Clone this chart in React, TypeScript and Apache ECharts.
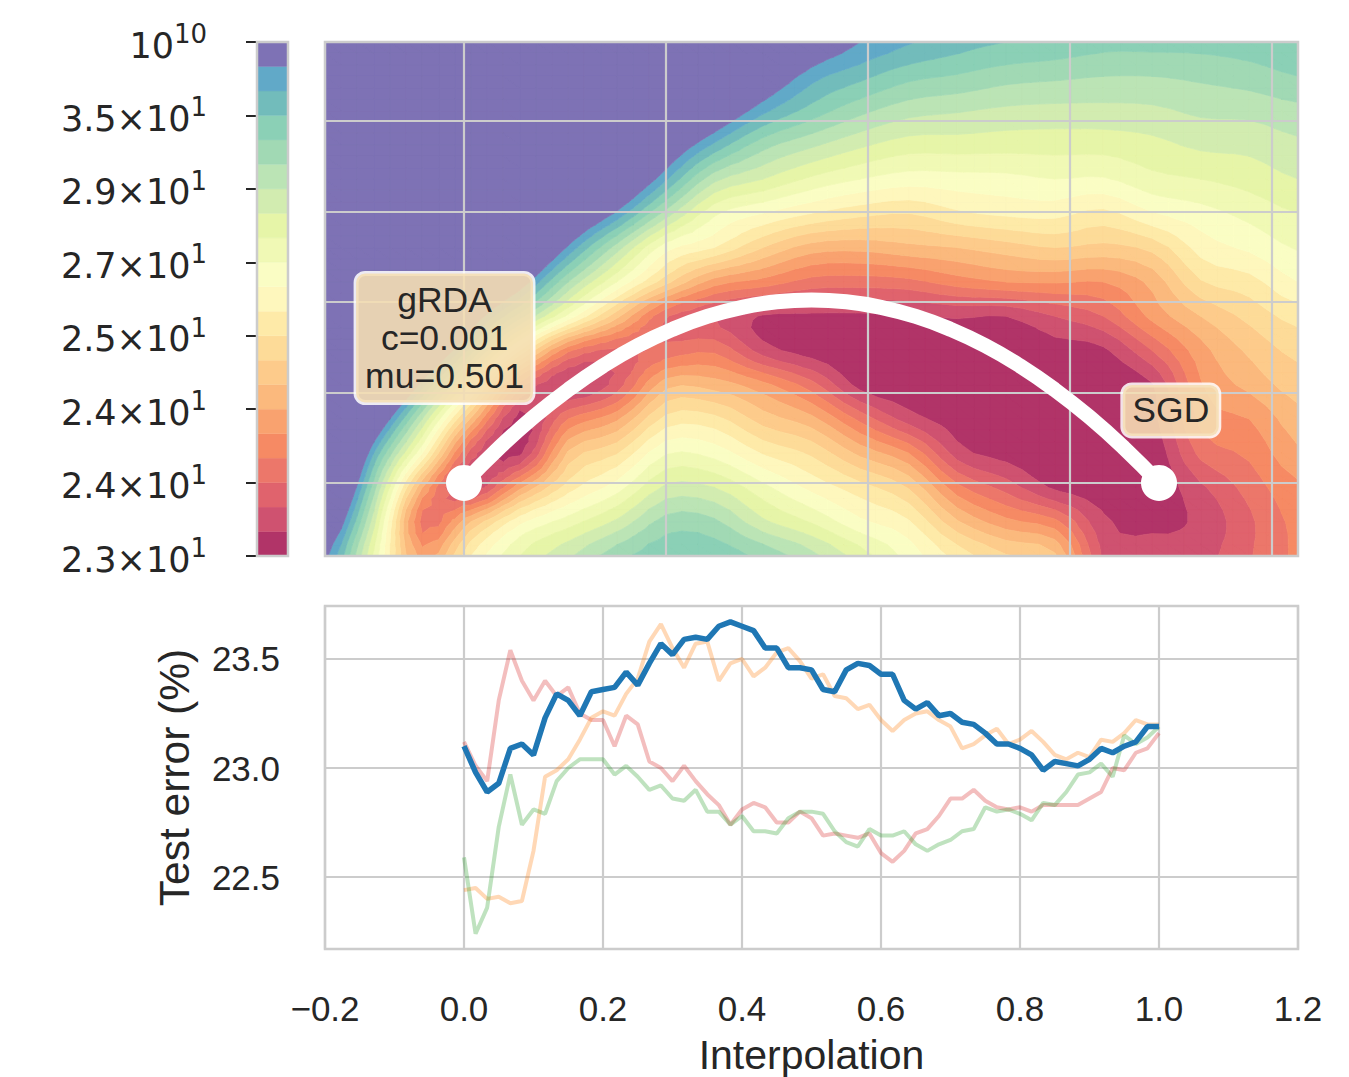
import React, { useEffect, useRef } from "react";
import * as echarts from "echarts";

// ---------- colour bar ----------
const bandColors = [
  "#b13468", "#cf5270", "#e0636d", "#ec776a", "#f68a64", "#f9a26f", "#fbb97d",
  "#fdcb8b", "#fddb98", "#feeaa8", "#fef7bd", "#fafdc4", "#f0f9b5", "#e6f5a8",
  "#d2ecb0", "#bbe4b5", "#a1d9b4", "#8bd0b6", "#72bcbb", "#61a9c8", "#7e72b5",
];
const colorbarMantissas = ["2.3×10", "2.4×10", "2.4×10", "2.5×10", "2.7×10", "2.9×10", "3.5×10", "10"];
const colorbarExponents = ["1", "1", "1", "1", "1", "1", "1", "10"];

// ---------- loss surface: one list per column, top row first, in colour-bar levels ----------
const surfaceColumns = [
  [56, 54, 52, 50, 48, 46, 44, 42, 39, 36, 33, 30, 27.5, 25, 22.5, 20.4],
  [52, 50, 48, 46, 44, 42, 40, 37, 34, 30, 26.5, 22.5, 19, 16.5, 14.4, 12.8],
  [48, 46, 44, 42, 40, 37, 35, 32, 28, 24, 19.5, 15, 11, 6, 3.6, 5.5],
  [44, 42, 39, 36.5, 34, 31.5, 29, 25, 21.5, 17.5, 12.1, 6.8, 2.5, 1.3, 7, 10],
  [40, 37, 34.5, 32, 29.5, 27, 24.5, 21, 16.5, 10, 3.5, 0.5, 0.7, 5.7, 10.7, 13],
  [36, 34, 31.5, 28.5, 25.5, 23, 19.8, 16, 11.7, 4.2, 0.9, 4, 7.2, 9.5, 12.5, 14.8],
  [33, 31, 28.6, 26, 23, 19.8, 15.5, 12, 7.3, 2.7, 2.4, 5.8, 8.9, 11.5, 14.2, 16.6],
  [30, 27.5, 24.8, 22, 19.2, 15.6, 11.4, 8.4, 3.1, 3.3, 6.6, 9.3, 11.9, 14.2, 16.4, 17.7],
  [27, 24.5, 22, 18.8, 15.3, 12.2, 10, 5.5, 2, 3.8, 6.5, 9.3, 11.6, 14, 16.2, 17.6],
  [24.5, 21.8, 19.3, 16.4, 14, 11, 8, 4.6, 0.9, 1.5, 5.3, 7.5, 9.9, 12.3, 14.2, 16.7],
  [21.5, 19.4, 17.6, 15.2, 12.8, 10, 6.5, 3.6, 0.8, 0.5, 3.4, 6.3, 8.8, 10.7, 12.9, 15.3],
  [20, 18.3, 16.3, 14.2, 12, 9.3, 6.3, 3.5, 0.8, 0.3, 0.6, 3.7, 6.7, 9.4, 11.2, 13.5],
  [19.1, 17.3, 15.4, 13.5, 11.5, 9, 6.7, 3.7, 0.9, 0.4, 0.3, 1.5, 5, 7.9, 10.1, 11.6],
  [18.4, 16.9, 15.1, 13.5, 11.6, 9.8, 7, 4.5, 1.1, 0.4, 0.3, 0.5, 1.5, 4.3, 7.1, 9.6],
  [18, 16.4, 14.8, 13.4, 11.7, 10.2, 7.5, 5, 1, 0.4, 0.3, 0.3, 0.6, 2.6, 5.3, 8.1],
  [17.7, 16.2, 14.7, 13.4, 12, 10.3, 8, 5.1, 2, 0.6, 0.3, 0.2, 0.2, 0.8, 4.3, 7.2],
  [17.3, 16, 14.7, 13.4, 11.9, 9.7, 7.7, 5, 3, 0.8, 0.3, 0.1, 0.1, 0.4, 1.2, 1.8],
  [17.3, 16, 14.8, 13.7, 12.7, 10.9, 8.3, 6.3, 5.3, 3, 0.9, 0.6, 0.2, 0.2, 0.8, 1.3],
  [17.3, 16.2, 15.2, 14.2, 13, 11.6, 10.4, 8.9, 7, 5.6, 4.9, 4.3, 3.3, 1.8, 1.2, 1.6],
  [17.5, 16.5, 15.3, 14.3, 13.4, 12.3, 11.2, 9.6, 8.3, 7.2, 6.3, 5, 4.2, 3.4, 2.8, 2.9],
  [17.8, 17, 15.7, 14.8, 14, 13, 12.1, 11, 9.4, 8.3, 7.5, 6.6, 5.8, 4.8, 4.3, 4.2],
];

const pathX = [0, 0.05, 0.1, 0.15, 0.2, 0.25, 0.3, 0.35, 0.4, 0.45, 0.5, 0.55, 0.6, 0.65, 0.7, 0.75, 0.8, 0.85, 0.9, 0.95, 1];
const pathY = [0, 0.384, 0.728, 1.031, 1.294, 1.517, 1.698, 1.84, 1.941, 2.002, 2.022, 2.002, 1.941, 1.84, 1.698, 1.517, 1.294, 1.031, 0.728, 0.384, 0];
const endpointX = [0, 1];
const endpointY = [0, 0];

// ---------- test error ----------
const stepCount = 60;
const errorBlue = [
  23.1, 22.98, 22.89, 22.93, 23.09, 23.11, 23.06, 23.23, 23.34, 23.31, 23.24, 23.35, 23.36, 23.37, 23.44, 23.38,
  23.48, 23.57, 23.52, 23.59, 23.6, 23.59, 23.65, 23.67, 23.65, 23.63, 23.55, 23.55, 23.46, 23.46, 23.45, 23.36,
  23.35, 23.45, 23.48, 23.47, 23.43, 23.43, 23.31, 23.27, 23.3, 23.24, 23.25, 23.21, 23.2, 23.16, 23.11, 23.11,
  23.09, 23.06, 22.99, 23.03, 23.02, 23.01, 23.04, 23.09, 23.07, 23.1, 23.12, 23.19, 23.19,
];
const errorOrange = [
  22.44, 22.45, 22.4, 22.41, 22.38, 22.39, 22.62, 22.96, 22.99, 23.04, 23.13, 23.23, 23.26, 23.24, 23.34, 23.41,
  23.58, 23.66, 23.55, 23.46, 23.57, 23.58, 23.4, 23.48, 23.5, 23.42, 23.46, 23.53, 23.55, 23.49, 23.41, 23.43,
  23.33, 23.32, 23.27, 23.29, 23.22, 23.17, 23.22, 23.25, 23.26, 23.22, 23.19, 23.09, 23.11, 23.15, 23.18, 23.11,
  23.13, 23.17, 23.12, 23.06, 23.04, 23.07, 23.05, 23.13, 23.12, 23.16, 23.22, 23.2, 23.2,
];
const errorRed = [
  23.12, 23.01, 22.94, 23.31, 23.54, 23.4, 23.31, 23.4, 23.33, 23.37, 23.25, 23.22, 23.22, 23.1, 23.24, 23.2,
  23.03, 23.0, 22.94, 23.01, 22.94, 22.88, 22.83, 22.74, 22.81, 22.84, 22.82, 22.75, 22.75, 22.8, 22.77, 22.69,
  22.7, 22.69, 22.68, 22.7, 22.61, 22.57, 22.62, 22.7, 22.72, 22.78, 22.86, 22.86, 22.9, 22.85, 22.82, 22.81,
  22.82, 22.8, 22.83, 22.83, 22.83, 22.83, 22.86, 22.89, 23.0, 22.99, 23.07, 23.09, 23.16,
];
const errorGreen = [
  22.59, 22.24, 22.36, 22.73, 22.97, 22.74, 22.81, 22.79, 22.94, 23.0, 23.04, 23.04, 23.04, 22.97, 23.01, 22.96,
  22.9, 22.92, 22.86, 22.85, 22.9, 22.8, 22.8, 22.74, 22.78, 22.71, 22.71, 22.7, 22.77, 22.8, 22.8, 22.79,
  22.71, 22.66, 22.64, 22.72, 22.69, 22.69, 22.71, 22.65, 22.62, 22.65, 22.67, 22.71, 22.72, 22.82, 22.8, 22.81,
  22.79, 22.76, 22.84, 22.83, 22.89, 22.97, 22.98, 23.02, 22.96, 23.15, 23.11, 23.14, 23.19,
];

const xMin = -0.2;
const xMax = 1.2;
const surfaceYMin = -0.807;
const surfaceYMax = 4.873;
const surfaceGridX = [0, 0.2906, 0.5813, 0.8719, 1.1626];
const surfaceGridY = [0, 1, 2, 3, 4];
const errorYMin = 22.17;
const errorYMax = 23.743;
const errorTicks = [22.5, 23, 23.5];
const inkColor = "#262626";
const gridColor = "#cccccc";

type V3 = [number, number, number];

function clipLevel(poly: V3[], level: number, keepAbove: boolean): V3[] {
  const out: V3[] = [];
  const inside = (p: V3) => (keepAbove ? p[2] >= level : p[2] <= level);
  for (let i = 0; i < poly.length; i++) {
    const a = poly[i];
    const b = poly[(i + 1) % poly.length];
    const ia = inside(a);
    const ib = inside(b);
    if (ia) out.push(a);
    if (ia !== ib) {
      const t = (level - a[2]) / (b[2] - a[2]);
      out.push([a[0] + (b[0] - a[0]) * t, a[1] + (b[1] - a[1]) * t, level]);
    }
  }
  return out;
}

// smooth the contour geometry between the values
const catmull = (p0: number, p1: number, p2: number, p3: number, t: number) =>
  0.5 * (2 * p1 + (p2 - p0) * t + (2 * p0 - 5 * p1 + 4 * p2 - p3) * t * t + (3 * p1 - p0 - 3 * p2 + p3) * t * t * t);

function fieldAt(cf: number, rf: number): number {
  const nc = surfaceColumns.length;
  const nr = surfaceColumns[0].length;
  const c = Math.min(Math.floor(cf), nc - 2);
  const r = Math.min(Math.floor(rf), nr - 2);
  const tc = cf - c;
  const tr = rf - r;
  const cl = (i: number) => Math.max(0, Math.min(nc - 1, i));
  const rl = (i: number) => Math.max(0, Math.min(nr - 1, i));
  const col = (i: number) =>
    catmull(surfaceColumns[cl(i)][rl(r - 1)], surfaceColumns[cl(i)][rl(r)], surfaceColumns[cl(i)][rl(r + 1)], surfaceColumns[cl(i)][rl(r + 2)], tr);
  return catmull(col(c - 1), col(c), col(c + 1), col(c + 2), tc);
}

function buildBandPolygons(): number[][][][] {
  const bands: number[][][][] = bandColors.map(() => []);
  const sub = 3;
  const nc = (surfaceColumns.length - 1) * sub;
  const nr = (surfaceColumns[0].length - 1) * sub;
  const vertex = (c: number, r: number): V3 => [
    xMin + ((xMax - xMin) * c) / nc,
    surfaceYMax - ((surfaceYMax - surfaceYMin) * r) / nr,
    fieldAt(c / sub, r / sub),
  ];
  for (let c = 0; c < nc; c++) {
    for (let r = 0; r < nr; r++) {
      const a = vertex(c, r);
      const b = vertex(c + 1, r);
      const d = vertex(c + 1, r + 1);
      const e = vertex(c, r + 1);
      for (const tri of [[a, b, d], [a, d, e]] as V3[][]) {
        for (let k = 0; k < bandColors.length; k++) {
          let poly = tri;
          if (k > 0) poly = clipLevel(poly, k, true);
          if (poly.length && k < bandColors.length - 1) poly = clipLevel(poly, k + 1, false);
          if (poly.length >= 3) bands[k].push(poly.map((p) => [p[0], p[1]]));
        }
      }
    }
  }
  return bands;
}

const bandPolygons = buildBandPolygons();
const stepX = errorBlue.map((_, i) => i / stepCount);
const pairs = (xs: number[], ys: number[]) => xs.map((x, i) => [x, ys[i]]);

echarts.graphic.registerShape(
  "bandRegion",
  (echarts.graphic as any).extendShape({
    shape: { polys: [] },
    buildPath(ctx: any, shape: any) {
      for (const poly of shape.polys) {
        ctx.moveTo(poly[0][0], poly[0][1]);
        for (let i = 1; i < poly.length; i++) ctx.lineTo(poly[i][0], poly[i][1]);
        ctx.closePath();
      }
    },
  })
);

export default function App() {
  const ref = useRef<HTMLDivElement>(null);
  useEffect(() => {
    const chart = echarts.init(ref.current!, undefined, { renderer: "svg" });
    const font = "Liberation Sans";
    const thinAxis = {
      axisLine: { show: false },
      axisLabel: { show: false },
    };
    const gridLine = { show: true, lineStyle: { color: gridColor, width: 2.2 } };
    const errorLine = (name: string, values: number[], color: string, opacity: number, width: number, z: number) => ({
      type: "line",
      name,
      xAxisIndex: 2,
      yAxisIndex: 2,
      data: pairs(stepX, values),
      showSymbol: false,
      symbol: "none",
      lineStyle: { color, opacity, width },
      z,
    });
    const noteStyle = {
      show: true,
      position: "inside",
      opacity: 1,
      fontFamily: font,
      fontSize: 35.5,
      lineHeight: 38,
      color: inkColor,
      align: "center",
      verticalAlign: "middle",
      backgroundColor: "rgba(245,222,179,0.88)",
      borderColor: "rgba(255,255,255,0.85)",
      borderWidth: 2.5,
      borderRadius: 9,
    };
    chart.setOption({
      animation: false,
      backgroundColor: "#ffffff",
      textStyle: { fontFamily: font, color: inkColor },
      grid: [
        { left: 257, top: 42, width: 31, height: 514, show: true, borderColor: gridColor, borderWidth: 2.5, z: 5, outerBoundsMode: "none" },
        { left: 325, top: 42, width: 973, height: 514, show: true, borderColor: gridColor, borderWidth: 2.5, z: 5, outerBoundsMode: "none" },
        { left: 325, top: 606, width: 973, height: 343, show: true, borderColor: gridColor, borderWidth: 2.5, z: 0, outerBoundsMode: "none" },
      ],
      xAxis: [
        { type: "value", gridIndex: 0, min: 0, max: 1, show: false },
        {
          type: "value", gridIndex: 1, min: xMin, max: xMax, z: 4, ...thinAxis,
          axisTick: { show: false, customValues: surfaceGridX },
          splitLine: gridLine,
        },
        {
          type: "value", gridIndex: 2, min: xMin, max: xMax, interval: 0.2,
          axisLine: { show: false },
          axisTick: { show: false },
          splitLine: gridLine,
          axisLabel: {
            fontFamily: font, fontSize: 35, color: inkColor, margin: 42,
            formatter: (v: number) => v.toFixed(1).replace("-", "−"),
          },
          name: "Interpolation",
          nameLocation: "middle",
          nameGap: 85,
          nameTextStyle: { fontFamily: font, fontSize: 41, color: inkColor },
        },
      ],
      yAxis: [
        {
          type: "value", gridIndex: 0, min: 0, max: 21, interval: 3,
          axisLine: { show: false },
          axisTick: { show: true, length: 11, lineStyle: { color: inkColor, width: 2 } },
          splitLine: { show: false },
          axisLabel: {
            margin: 50,
            formatter: (v: number) => {
              const i = Math.round(v / 3);
              return `{b|${colorbarMantissas[i]}}{s|${colorbarExponents[i]}}`;
            },
            rich: {
              b: { fontFamily: "DejaVu Sans", fontSize: 35, color: inkColor, lineHeight: 42, verticalAlign: "bottom" },
              s: { fontFamily: "DejaVu Sans", fontSize: 26, color: inkColor, lineHeight: 42, verticalAlign: "top" },
            },
          },
        },
        {
          type: "value", gridIndex: 1, min: surfaceYMin, max: surfaceYMax, z: 4, ...thinAxis,
          axisTick: { show: false, customValues: surfaceGridY },
          splitLine: gridLine,
        },
        {
          type: "value", gridIndex: 2, min: errorYMin, max: errorYMax,
          axisLine: { show: false },
          axisTick: { show: false, customValues: errorTicks },
          splitLine: gridLine,
          axisLabel: {
            customValues: errorTicks,
            fontFamily: font, fontSize: 35, color: inkColor, margin: 45,
            formatter: (v: number) => v.toFixed(1),
          },
          name: "Test error (%)",
          nameLocation: "middle",
          nameGap: 129,
          nameRotate: 90,
          nameTextStyle: { fontFamily: font, fontSize: 42.5, color: inkColor },
        },
      ],
      series: [
        {
          type: "custom",
          xAxisIndex: 0,
          yAxisIndex: 0,
          silent: true,
          data: bandColors.map((_, i) => [0, i]),
          renderItem: (params: any, api: any) => {
            const k = params.dataIndex;
            const p0 = api.coord([0, k + 1]);
            const p1 = api.coord([1, k]);
            return {
              type: "rect",
              shape: { x: p0[0], y: p0[1], width: p1[0] - p0[0], height: p1[1] - p0[1] },
              style: { fill: bandColors[k], stroke: bandColors[k], lineWidth: 0.4 },
            };
          },
        },
        {
          type: "custom",
          xAxisIndex: 1,
          yAxisIndex: 1,
          silent: true,
          clip: true,
          data: bandColors.map((_, i) => [0, i]),
          renderItem: (params: any, api: any) => {
            const k = params.dataIndex;
            return {
              type: "bandRegion",
              shape: { polys: bandPolygons[k].map((poly) => poly.map((p) => api.coord(p))) },
              style: { fill: bandColors[k], stroke: bandColors[k], lineWidth: 0.7 },
            };
          },
        },
        {
          type: "line",
          xAxisIndex: 1,
          yAxisIndex: 1,
          data: pairs(pathX, pathY),
          smooth: true,
          showSymbol: false,
          symbol: "none",
          lineStyle: { color: "#ffffff", width: 15 },
          z: 6,
          silent: true,
        },
        {
          type: "scatter",
          xAxisIndex: 1,
          yAxisIndex: 1,
          data: pairs(endpointX, endpointY),
          symbolSize: 36,
          itemStyle: { color: "#ffffff", opacity: 1 },
          z: 7,
          silent: true,
        },
        {
          type: "scatter",
          xAxisIndex: 1,
          yAxisIndex: 1,
          data: [[-0.028, 1.602]],
          symbolSize: 1,
          itemStyle: { color: "transparent", opacity: 1 },
          label: { ...noteStyle, formatter: "gRDA\nc=0.001\nmu=0.501", padding: [3, 9, 12, 9] },
          z: 8,
          silent: true,
        },
        {
          type: "scatter",
          xAxisIndex: 1,
          yAxisIndex: 1,
          data: [[1.017, 0.801]],
          symbolSize: 1,
          itemStyle: { color: "transparent", opacity: 1 },
          label: { ...noteStyle, formatter: "SGD", padding: [2.5, 9.5, 10.5, 9.5] },
          z: 8,
          silent: true,
        },
        errorLine("Red", errorRed, "#d62728", 0.3, 4, 3),
        errorLine("Orange", errorOrange, "#ff7f0e", 0.3, 4, 3),
        errorLine("Green", errorGreen, "#2ca02c", 0.3, 4, 3),
        errorLine("Blue", errorBlue, "#1f77b4", 1, 5.5, 4),
      ],
    });
    return () => chart.dispose();
  }, []);
  return <div ref={ref} style={{ position: "absolute", left: 0, top: 0, width: 1349, height: 1077 }} />;
}
